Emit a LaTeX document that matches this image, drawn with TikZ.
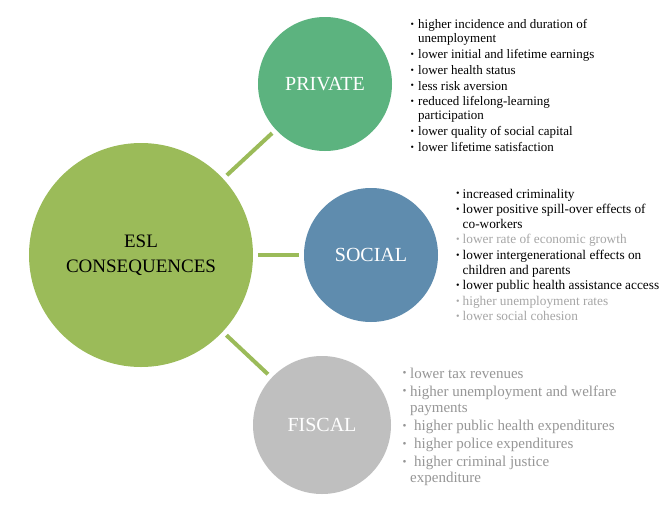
\documentclass[tikz,border=0pt]{standalone}
\usepackage{graphicx}
\usepackage{fontspec}
\setmainfont{Liberation Serif}
\definecolor{eslgreen}{HTML}{9BBB59}
\definecolor{privgreen}{HTML}{5CB37F}
\definecolor{socblue}{HTML}{5F8CAE}
\definecolor{fisgray}{HTML}{BFBFBF}
\definecolor{softgray}{HTML}{A6A6A6}
\definecolor{fistext}{HTML}{969696}
\newcommand\smallbul{\hspace*{0.3pt}\raisebox{0.09em}{\scalebox{0.75}{\textbullet}}}
\newcommand\lbul[2][8pt]{\makebox[#1][l]{\smallbul}#2}
\newcommand\lcont[2][8pt]{\hspace*{#1}#2}
\begin{document}
\begin{tikzpicture}[x=1pt,y=-1pt,
  bubble/.style={circle, inner sep=0pt, text=white, font=\fontsize{20}{24}\selectfont},
  conn/.style={draw=eslgreen, line width=4pt, shorten >=5pt, shorten <=5pt},
  listtext/.style={anchor=north west, inner sep=0pt, align=left}]
\useasboundingbox (0,0) rectangle (672,509);
\fill[white] (0,0) rectangle (672,509);

\node[bubble, fill=eslgreen, minimum size=224pt, text=black,
      font=\fontsize{19}{25}\selectfont, align=center] (esl) at (141,255) {ESL\\CONSEQUENCES};
\node[bubble, fill=privgreen, minimum size=134pt] (priv) at (325,84) {PRIVATE};
\node[bubble, fill=socblue, minimum size=134pt] (soc) at (371,255) {SOCIAL};
\node[bubble, fill=fisgray, minimum size=138pt] (fis) at (322,425) {FISCAL};

\draw[conn] (esl) -- (priv);
\draw[conn] (esl) -- (soc);
\draw[conn] (esl) -- (fis);

\node[listtext, font=\fontsize{13}{13.8}\selectfont] (privlist) at (410,19.5) {%
\lbul{higher incidence and duration of}\\
\lcont{unemployment}\\[2pt]
\lbul{lower initial and lifetime earnings}\\[2pt]
\lbul{lower health status}\\[2pt]
\lbul{less risk aversion}\\[2pt]
\lbul{reduced lifelong-learning}\\
\lcont{participation}\\[2pt]
\lbul{lower quality of social capital}\\[2pt]
\lbul{lower lifetime satisfaction}};

\node[listtext, font=\fontsize{13.3}{14.6}\selectfont] (soclist) at (455.5,188.7) {%
\lbul[7pt]{increased criminality}\\[1pt]
\lbul[7pt]{lower positive spill-over effects of}\\
\lcont[7pt]{co-workers}\\[1pt]
{\color{softgray}\lbul[7pt]{lower rate of economic growth}}\\[1pt]
\lbul[7pt]{lower intergenerational effects on}\\
\lcont[7pt]{children and parents}\\[1pt]
\lbul[7pt]{lower public health assistance access}\\[1pt]
{\color{softgray}\lbul[7pt]{higher unemployment rates}}\\[1pt]
{\color{softgray}\lbul[7pt]{lower social cohesion}}};

\node[listtext, text=fistext, font=\fontsize{15}{16.2}\selectfont] (fislist) at (402,367.7) {%
\lbul[8pt]{lower tax revenues}\\[1.8pt]
\lbul[8pt]{higher unemployment and welfare}\\
\lcont[8pt]{payments}\\[1.8pt]
\lbul[8pt]{\hspace{4pt}higher public health expenditures}\\[1.8pt]
\lbul[8pt]{\hspace{4pt}higher police expenditures}\\[1.8pt]
\lbul[8pt]{\hspace{4pt}higher criminal justice}\\
\lcont[8pt]{expenditure}};
\end{tikzpicture}
\end{document}
